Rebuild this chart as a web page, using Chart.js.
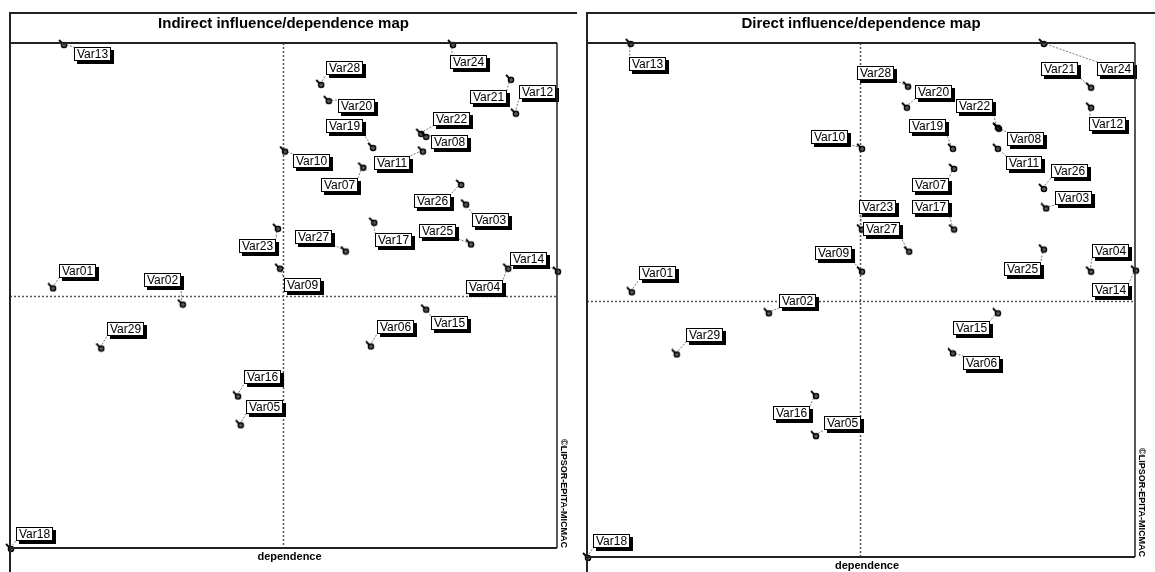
<!DOCTYPE html>
<html><head><meta charset="utf-8">
<script src="https://cdn.jsdelivr.net/npm/chart.js@4"></script>
<style>
html,body{margin:0;padding:0;background:#fff;width:1155px;height:572px;overflow:hidden}
.wrap{position:absolute;top:0;height:572px}
#w1{left:0;width:577px}
#w2{left:577px;width:578px}
</style></head><body>
<div class="wrap" id="w1"><canvas id="c1"></canvas></div>
<div class="wrap" id="w2"><canvas id="c2"></canvas></div>
<script>
const variables = ['Var01','Var02','Var03','Var04','Var05','Var06','Var07','Var08','Var09','Var10',
  'Var11','Var12','Var13','Var14','Var15','Var16','Var17','Var18','Var19','Var20',
  'Var21','Var22','Var23','Var24','Var25','Var26','Var27','Var28','Var29'];

// Indirect influence/dependence map (normalised 0-100)
const indirectDependence = [7.7, 31.4, 83.2, 90.9, 42.0, 65.8, 64.4, 75.9, 49.2, 50.1, 75.3, 92.3, 9.7, 100, 75.9, 41.5, 66.4, 0, 66.2, 58.1, 91.4, 75.0, 48.8, 80.8, 84.1, 82.3, 61.2, 56.7, 16.5];
const indirectInfluence  = [51.6, 48.4, 68.2, 55.5, 24.5, 40.1, 75.5, 81.6, 55.5, 78.7, 78.7, 86.2, 99.8, 54.9, 47.4, 30.2, 64.6, 0, 79.4, 88.7, 92.9, 82.2, 63.4, 99.8, 60.3, 72.1, 58.9, 91.9, 39.7];
const indirectLabelDependence = [12.4, 27.8, 87.9, 86.7, 46.6, 70.4, 60.3, 80.4, 53.4, 55.2, 69.8, 96.5, 15.0, 94.7, 80.4, 46.1, 70.2, 4.4, 61.2, 63.3, 87.4, 80.8, 45.2, 83.9, 78.1, 77.3, 55.4, 61.2, 21.2];
const indirectLabelInfluence  = [54.9, 53.0, 65.0, 51.6, 27.9, 43.7, 71.9, 80.4, 52.0, 76.7, 76.3, 90.3, 97.8, 57.3, 44.5, 33.8, 60.9, 2.8, 83.6, 87.5, 89.3, 85.0, 59.9, 96.2, 62.8, 68.8, 61.5, 95.1, 43.3];
const indirectMeanDependence = 49.9;
const indirectMeanInfluence = 50.0;

// Direct influence/dependence map (normalised 0-100)
const directDependence = [8.0, 33.0, 83.6, 91.8, 41.6, 66.6, 66.8, 75.0, 50.0, 50.0, 74.8, 91.8, 7.8, 100, 74.8, 41.6, 66.8, 0, 66.6, 58.2, 91.8, 74.8, 50.0, 83.2, 83.2, 83.2, 58.6, 58.4, 16.2];
const directInfluence  = [51.7, 47.6, 68.0, 55.7, 23.7, 39.8, 75.7, 83.5, 55.7, 79.6, 79.6, 87.6, 100, 55.9, 47.6, 31.5, 63.9, 0, 79.6, 87.6, 91.5, 83.7, 63.9, 100, 60.0, 71.8, 59.6, 91.7, 39.6];
const directLabelDependence = [12.8, 38.5, 88.7, 95.6, 46.7, 71.9, 62.6, 80.1, 44.9, 44.2, 79.7, 94.9, 11.1, 95.6, 70.1, 37.4, 62.6, 4.4, 62.2, 63.3, 86.3, 70.8, 53.1, 96.4, 79.4, 88.1, 53.8, 52.7, 21.5];
const directLabelInfluence  = [55.3, 49.9, 69.9, 59.6, 26.0, 37.7, 72.4, 81.4, 59.2, 81.7, 76.7, 84.3, 95.9, 52.0, 44.5, 28.0, 68.0, 3.1, 83.9, 90.5, 95.0, 87.8, 68.0, 95.0, 56.1, 75.1, 63.9, 94.2, 43.1];
const directMeanDependence = 49.8;
const directMeanInfluence = 49.9;

const axisTitle = 'dependence';
const copyright = '\u00A9LIPSOR-EPITA-MICMAC';

// marker: small pin (ring with a short tail)
function makeMarker(){
  const c = document.createElement('canvas');
  c.width = 10; c.height = 10;
  const g = c.getContext('2d');
  g.strokeStyle = '#000'; g.lineWidth = 1.8;
  g.beginPath(); g.moveTo(1,1); g.lineTo(4.5,4.5); g.stroke();
  g.beginPath(); g.arc(6,6,2.4,0,Math.PI*2); g.stroke();
  g.fillStyle = '#222'; g.beginPath(); g.arc(6,6,1,0,Math.PI*2); g.fill();
  return c;
}
const marker = makeMarker();
const LABEL_FONT = '12px "Liberation Sans Narrow", "Liberation Sans", Arial, sans-serif';

function labelBox(ctx, text, lx, ly){
  ctx.font = LABEL_FONT;
  const w = Math.round(ctx.measureText(text).width) + 6, h = 14;
  return {x0: Math.round(lx - w/2), y0: Math.round(ly - h/2), w, h};
}

function makeChart(id, title, dep, inf, labDep, labInf, meanDep, meanInf, pad){
  const mapPlugin = {
    id: 'micmacMap',
    beforeDatasetsDraw(chart){
      const {ctx, chartArea: a, scales: {x, y}} = chart;
      ctx.save();
      // mean lines
      ctx.strokeStyle = '#555'; ctx.lineWidth = 1.5; ctx.setLineDash([2,2]);
      const mx = Math.round(x.getPixelForValue(meanDep)) + 0.5;
      const my = Math.round(y.getPixelForValue(meanInf)) + 0.5;
      ctx.beginPath(); ctx.moveTo(mx, a.top); ctx.lineTo(mx, a.bottom); ctx.stroke();
      ctx.beginPath(); ctx.moveTo(a.left, my); ctx.lineTo(a.right, my); ctx.stroke();
      // leader lines
      ctx.strokeStyle = '#777'; ctx.lineWidth = 1; ctx.setLineDash([2,1.5]);
      variables.forEach((v, i) => {
        const px = x.getPixelForValue(dep[i]), py = y.getPixelForValue(inf[i]);
        const lx = x.getPixelForValue(labDep[i]), ly = y.getPixelForValue(labInf[i]);
        const b = labelBox(ctx, v, lx, ly);
        const cx = Math.min(Math.max(px, b.x0), b.x0 + b.w);
        const cy = Math.min(Math.max(py, b.y0), b.y0 + b.h);
        ctx.beginPath(); ctx.moveTo(px, py); ctx.lineTo(cx, cy); ctx.stroke();
      });
      ctx.restore();
    },
    afterDatasetsDraw(chart){
      const {ctx, chartArea: a, scales: {x, y}, width} = chart;
      ctx.save();
      // labels
      variables.forEach((v, i) => {
        const lx = x.getPixelForValue(labDep[i]), ly = y.getPixelForValue(labInf[i]);
        const b = labelBox(ctx, v, lx, ly);
        ctx.fillStyle = '#000';
        ctx.fillRect(b.x0 + 3, b.y0 + 3, b.w, b.h);
        ctx.fillStyle = '#fff';
        ctx.fillRect(b.x0, b.y0, b.w, b.h);
        ctx.strokeStyle = '#000'; ctx.lineWidth = 1;
        ctx.strokeRect(b.x0 + 0.5, b.y0 + 0.5, b.w - 1, b.h - 1);
        ctx.fillStyle = '#000'; ctx.textAlign = 'center'; ctx.textBaseline = 'middle';
        ctx.fillText(v, b.x0 + b.w/2, b.y0 + b.h/2 + 0.5);
      });
      // frame
      ctx.strokeStyle = '#222';
      ctx.lineWidth = 2;
      ctx.beginPath(); ctx.moveTo(a.left, a.top - 30); ctx.lineTo(width, a.top - 30); ctx.stroke();
      ctx.beginPath(); ctx.moveTo(a.left, a.top - 31); ctx.lineTo(a.left, chart.height); ctx.stroke();
      ctx.beginPath(); ctx.moveTo(a.left, a.top); ctx.lineTo(a.right, a.top); ctx.stroke();
      ctx.beginPath(); ctx.moveTo(a.left, a.bottom); ctx.lineTo(a.right, a.bottom); ctx.stroke();
      ctx.lineWidth = 1.5;
      ctx.beginPath(); ctx.moveTo(a.right, a.top); ctx.lineTo(a.right, a.bottom); ctx.stroke();
      // title
      ctx.fillStyle = '#000'; ctx.textAlign = 'center'; ctx.textBaseline = 'middle';
      ctx.font = 'bold 15px "Liberation Sans", Arial, sans-serif';
      ctx.fillText(title, (a.left + a.right)/2, a.top - 19);
      // axis title
      ctx.font = 'bold 11px "Liberation Sans", Arial, sans-serif';
      ctx.fillText(axisTitle, (a.left + a.right)/2 + 6, a.bottom + 9);
      // copyright
      ctx.translate(a.right + 6, a.bottom);
      ctx.rotate(Math.PI/2);
      ctx.textAlign = 'right';
      ctx.font = 'bold 9px "Liberation Sans Narrow", "Liberation Sans", Arial, sans-serif';
      ctx.fillText(copyright, 0, 0);
      ctx.restore();
    }
  };
  return new Chart(document.getElementById(id), {
    type: 'scatter',
    data: {
      datasets: [{
        data: variables.map((v, i) => ({x: dep[i], y: inf[i]})),
        pointStyle: marker,
        pointRadius: 4,
        clip: false
      }]
    },
    options: {
      responsive: true,
      maintainAspectRatio: false,
      animation: false,
      layout: {padding: pad},
      scales: {
        x: {type: 'linear', min: 0, max: 100, display: false},
        y: {type: 'linear', min: 0, max: 100, display: false}
      },
      plugins: {legend: {display: false}, tooltip: {enabled: false}}
    },
    plugins: [mapPlugin]
  });
}

makeChart('c1', 'Indirect influence/dependence map', indirectDependence, indirectInfluence,
  indirectLabelDependence, indirectLabelInfluence, indirectMeanDependence, indirectMeanInfluence,
  {left: 10, top: 43, right: 20, bottom: 24});
makeChart('c2', 'Direct influence/dependence map', directDependence, directInfluence,
  directLabelDependence, directLabelInfluence, directMeanDependence, directMeanInfluence,
  {left: 10, top: 43, right: 20, bottom: 15});
</script>
</body></html>
